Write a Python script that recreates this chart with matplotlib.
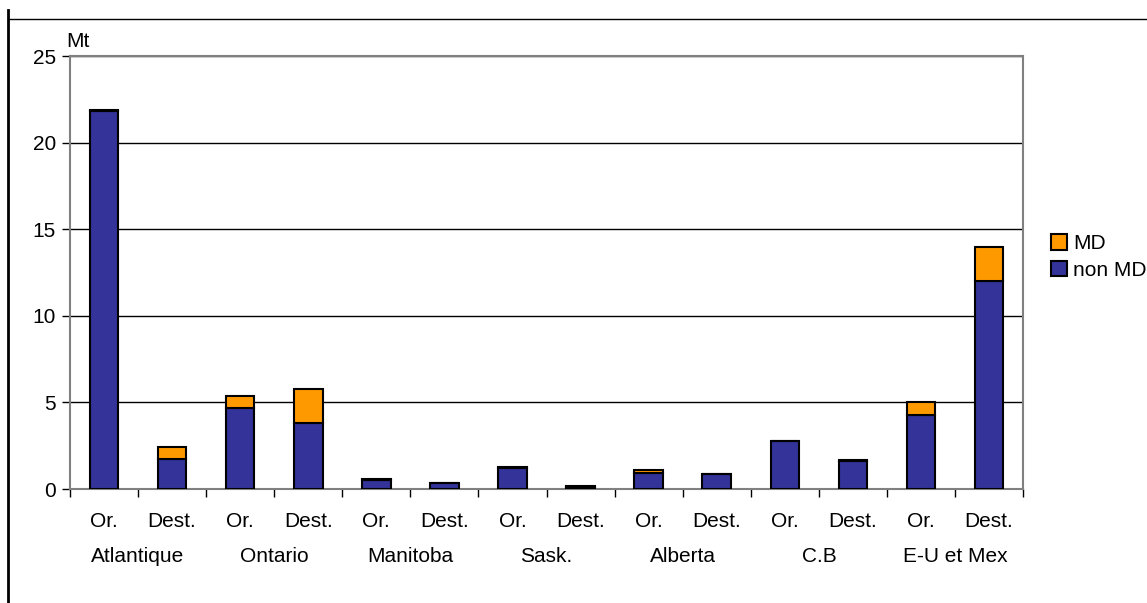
import matplotlib
matplotlib.use('Agg')
import matplotlib.pyplot as plt
from matplotlib.patches import Patch
from matplotlib.lines import Line2D
import numpy as np

plt.rcParams['font.family'] = ['Liberation Sans', 'DejaVu Sans']

# données (Mt)
regions = ['Atlantique', 'Ontario', 'Manitoba', 'Sask.', 'Alberta', 'C.B', 'E-U et Mex']
sous_cat = ['Or.', 'Dest.'] * 7
non_md = [21.8, 1.75, 4.7, 3.8, 0.55, 0.35, 1.2, 0.12, 0.9, 0.85, 2.75, 1.62, 4.3, 12.0]
md = [0.08, 0.65, 0.7, 2.0, 0.02, 0.02, 0.05, 0.04, 0.2, 0.03, 0.04, 0.04, 0.7, 2.0]

bleu = '#333399'
orange = '#FF9900'
fs = 15

fig = plt.figure(figsize=(11.47, 6.03), dpi=100)
ax = fig.add_axes([0.061, 0.189, 0.831, 0.718])

x = np.arange(len(non_md))
ax.bar(x, non_md, width=0.42, color=bleu, edgecolor='black', linewidth=1.5, zorder=3)
ax.bar(x, md, width=0.42, bottom=non_md, color=orange, edgecolor='black', linewidth=1.5, zorder=3)

ax.set_xlim(-0.5, len(non_md) - 0.5)
ax.set_ylim(0, 25)
ax.set_yticks([0, 5, 10, 15, 20, 25])
ax.yaxis.grid(True, color='black', linewidth=1, zorder=0)

# ticks aux frontières, étiquettes au centre
ax.set_xticks(np.arange(-0.5, len(non_md), 1))
ax.set_xticklabels([])
ax.set_xticks(x, minor=True)
ax.set_xticklabels(sous_cat, minor=True)
ax.tick_params(axis='x', which='major', length=6, width=1, color='black', direction='out')
ax.tick_params(axis='x', which='minor', length=0, pad=16.5, labelsize=fs)
ax.tick_params(axis='y', length=6, width=1, color='black', labelsize=fs, pad=4)

for s in ax.spines.values():
    s.set_color('#808080')
    s.set_linewidth(1.5)

for i, r in enumerate(regions):
    ax.text(2 * i + 0.5, -0.155, r, transform=ax.get_xaxis_transform(),
            ha='center', va='center', fontsize=fs)

ax.text(-0.004, 1.012, 'Mt', transform=ax.transAxes, fontsize=fs, ha='left', va='bottom')

handles = [Patch(facecolor=orange, edgecolor='black', linewidth=1.5, label='MD'),
           Patch(facecolor=bleu, edgecolor='black', linewidth=1.5, label='non MD')]
fig.legend(handles=handles, loc='center left', bbox_to_anchor=(0.9, 0.574), frameon=False,
           fontsize=fs, handlelength=0.75, handleheight=0.75, handletextpad=0.3, labelspacing=0.35)

# cadre extérieur
fig.add_artist(Line2D([0.007, 1.0], [1 - 19 / 603, 1 - 19 / 603], color='black', linewidth=1))
fig.add_artist(Line2D([0.007, 0.007], [0, 1 - 10 / 603], color='black', linewidth=2))

fig.savefig('out.png', dpi=100)
